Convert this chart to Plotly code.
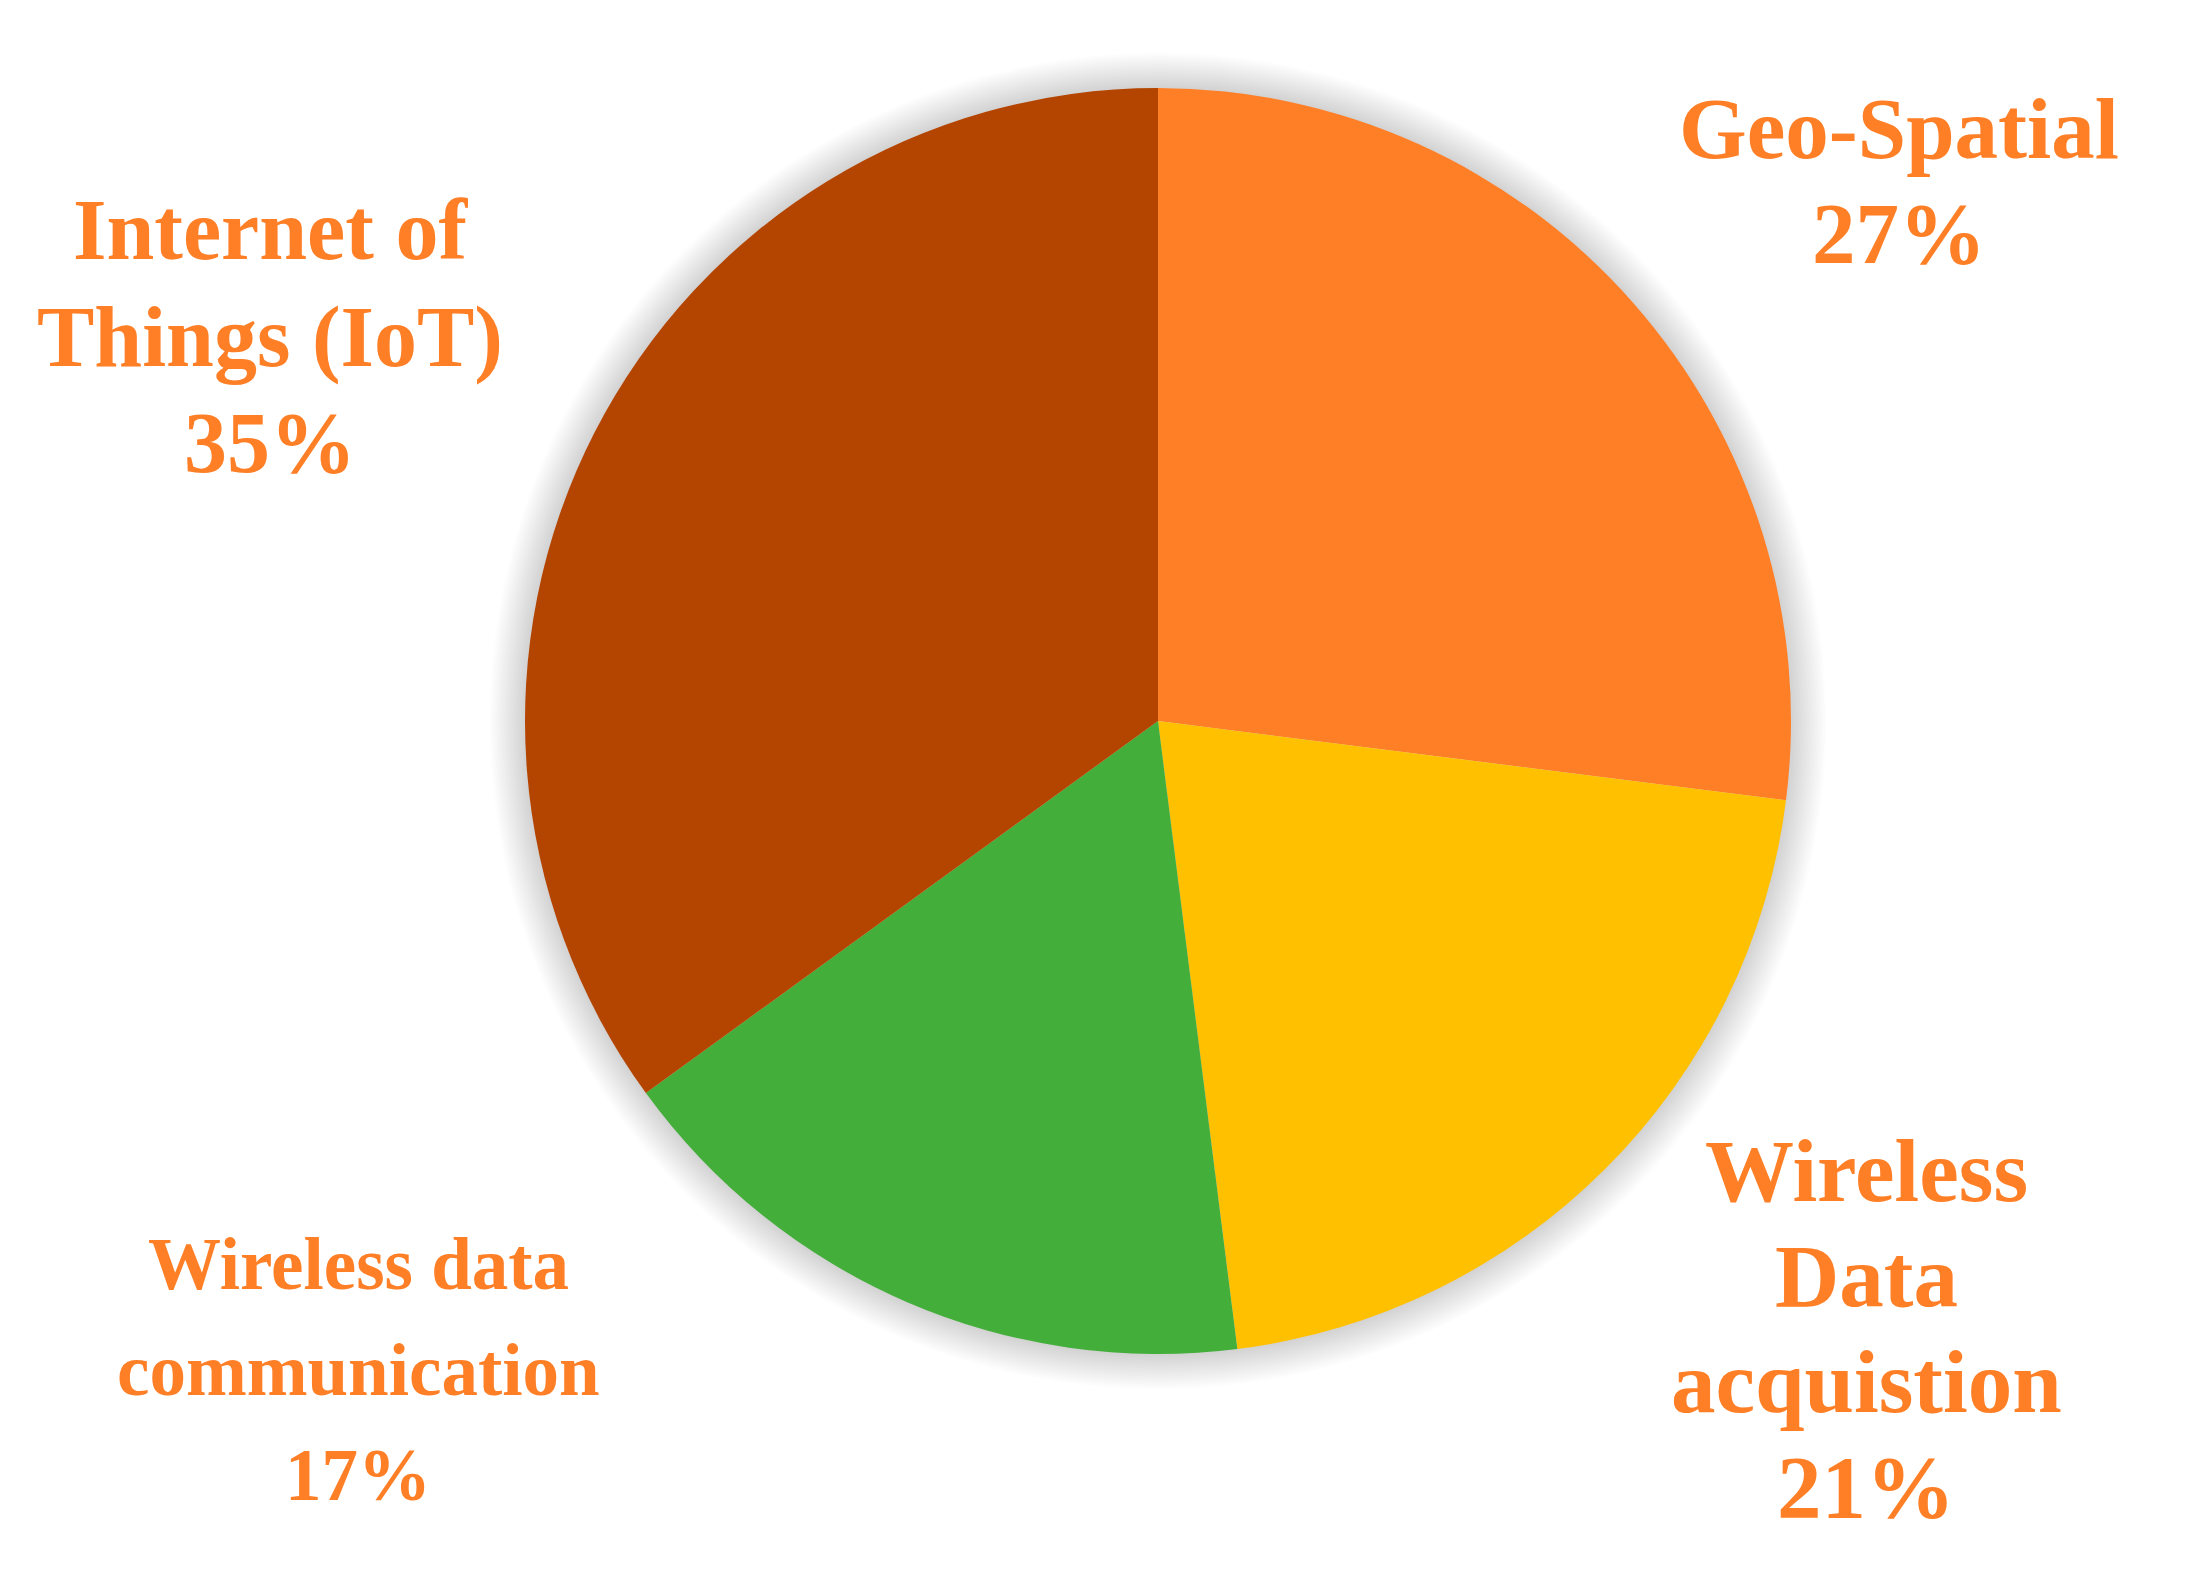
import plotly.graph_objects as go

# ---- data ----
categories = ["Geo-Spatial", "Wireless Data acquistion", "Wireless data communication", "Internet of Things (IoT)"]
values = [27, 21, 17, 35]
colors = ["#FF7F27", "#FFC000", "#43AE3A", "#B44500"]
label_lines = [
    ["Geo-Spatial"],
    ["Wireless", "Data", "acquistion"],
    ["Wireless data", "communication"],
    ["Internet of", "Things (IoT)"],
]

W, H = 2208, 1571
OFF = 8  # page body margin offset
cx, cy, R = 1158 - OFF, 721 - OFF, 633  # pie centre / radius in pixels

# label layout: (centre x px, first baseline y px, font size, line spacing)
label_layout = [
    (1899, 158, 87, 105),
    (1866, 1201, 89, 105.3),
    (358, 1289, 73, 105.5),
    (270, 259, 86, 106.5),
]

fig = go.Figure()
fig.add_trace(go.Pie(
    labels=categories,
    values=values,
    sort=False,
    direction="clockwise",
    rotation=0,
    marker=dict(colors=colors, line=dict(width=0)),
    textinfo="none",
    hoverinfo="label+percent",
    showlegend=False,
    domain=dict(x=[(cx - R) / W, (cx + R) / W], y=[(H - cy - R) / H, (H - cy + R) / H]),
))

# soft shadow around the pie
shapes = []
for i in range(22, 0, -1):
    r = R + i * 1.6
    shapes.append(dict(
        type="circle", xref="paper", yref="paper", layer="below",
        x0=(cx - r) / W, x1=(cx + r) / W, y0=(H - cy - r) / H, y1=(H - cy + r) / H,
        fillcolor="rgba(110,110,110,0.014)", line=dict(width=0),
    ))

annotations = []
total = sum(values)
for lines, v, (lx, by, fs, ls) in zip(label_lines, values, label_layout):
    all_lines = lines + [f"{round(100 * v / total)}%"]
    for k, t in enumerate(all_lines):
        base = by + k * ls - OFF
        ycenter = base - 0.335 * fs
        annotations.append(dict(
            text=f"<b>{t}</b>", x=(lx - OFF) / W, y=(H - ycenter) / H,
            xref="paper", yref="paper", xanchor="center", yanchor="middle",
            showarrow=False,
            font=dict(family="Liberation Serif, Times New Roman, serif", size=fs, color="#FF7F27"),
        ))

fig.update_layout(
    width=W, height=H,
    margin=dict(l=0, r=0, t=0, b=0),
    paper_bgcolor="white", plot_bgcolor="white",
    shapes=shapes, annotations=annotations,
)

fig.write_html("out.html")
